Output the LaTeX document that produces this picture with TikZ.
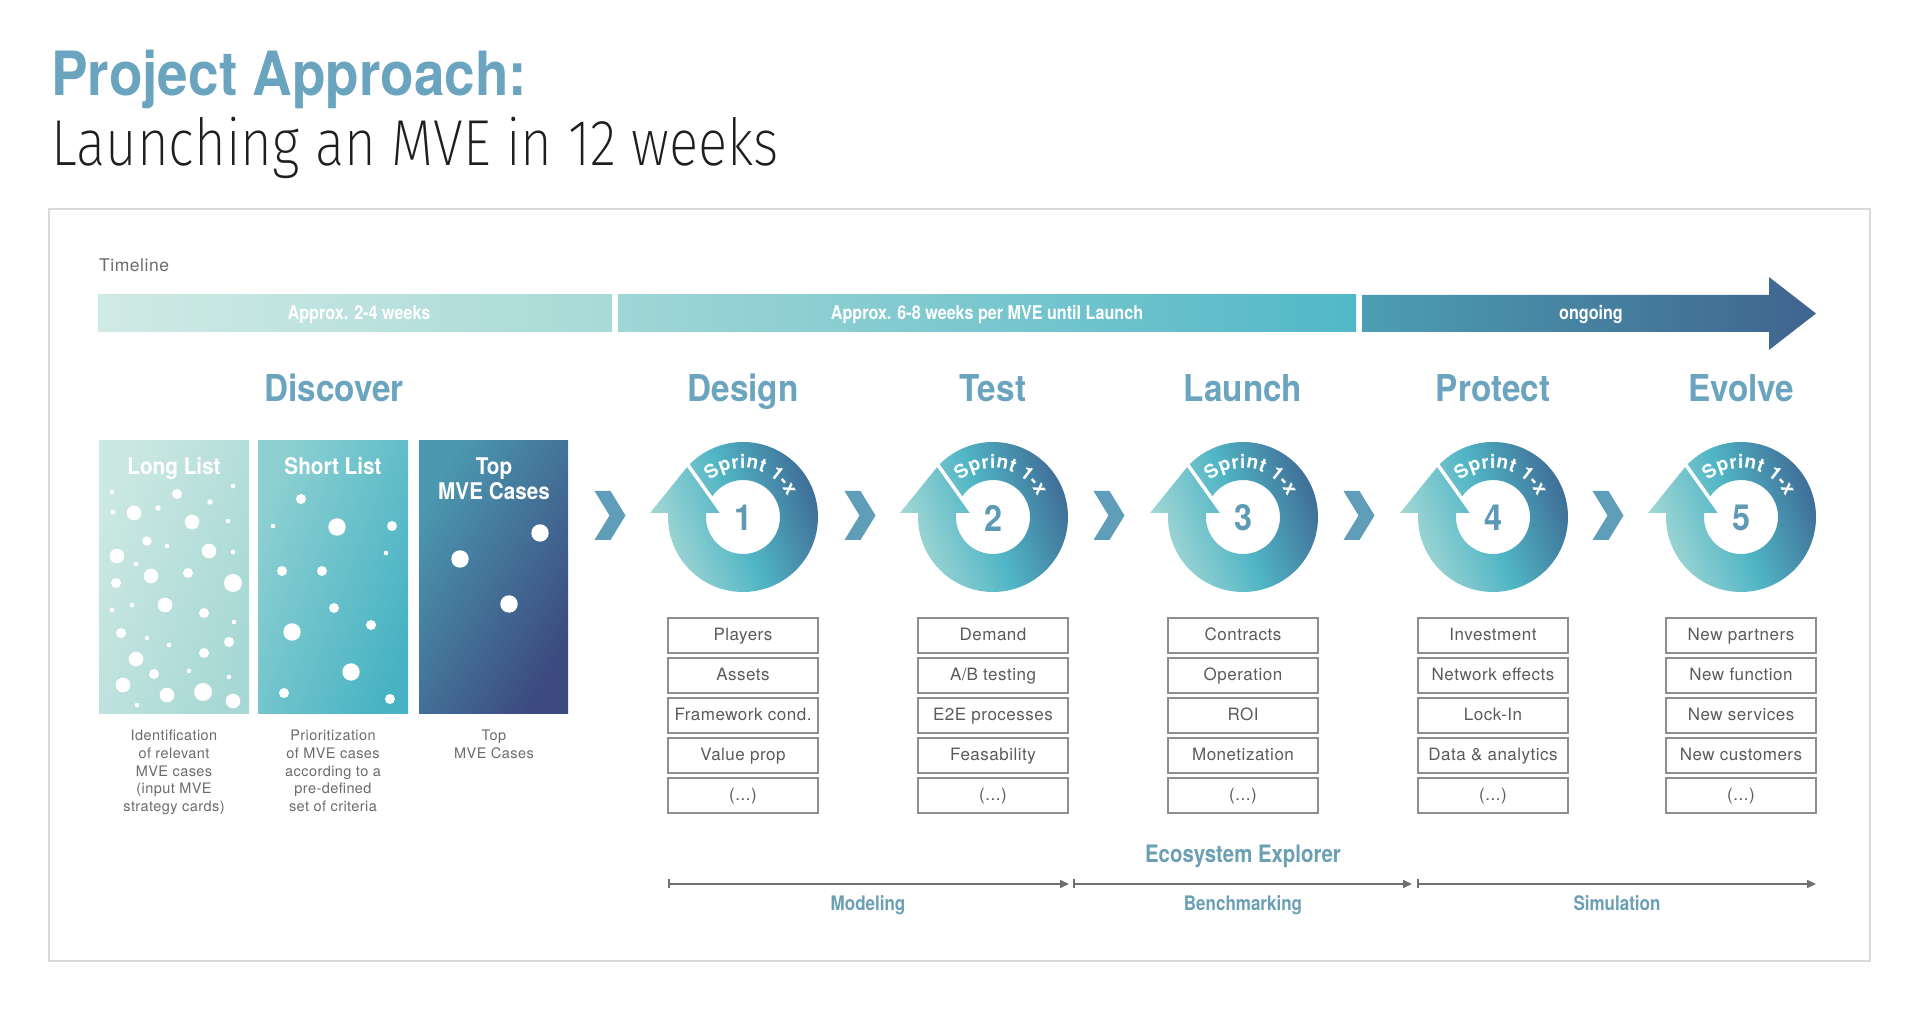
\documentclass[tikz,border=0pt]{standalone}
\usepackage{fontspec}
\setmainfont{TeX Gyre Heros}
\newfontfamily\headfont{TeX Gyre Heros}[FakeStretch=0.9]
\newfontfamily\condfont{TeX Gyre Heros}[FakeStretch=0.85]
\newfontfamily\lightfont{Fira Sans ExtraLight}[FakeStretch=0.84]
\newfontfamily\spacedfont{TeX Gyre Heros}[LetterSpace=3]
\newcommand\sprintfont{\normalfont\bfseries\fontsize{19}{19}\selectfont}
\usetikzlibrary{arrows.meta, decorations.text}

\definecolor{headblue}{HTML}{6AA4BE}
\definecolor{numblue}{HTML}{5E9AB5}
\definecolor{chevblue}{HTML}{5F9DB8}
\definecolor{explblue}{HTML}{6A9FB4}
\definecolor{titleblack}{HTML}{1E1E1E}
\definecolor{descgray}{HTML}{6B6B6B}
\definecolor{itemgray}{HTML}{5B5B5B}
\definecolor{boxgray}{HTML}{8E8E8E}
\definecolor{framegray}{HTML}{DADADA}
\definecolor{arrowgray}{HTML}{707070}
\definecolor{tlA}{HTML}{D0EAE4}
\definecolor{tlB}{HTML}{A8DAD7}
\definecolor{tlC}{HTML}{A0D6D6}
\definecolor{tlD}{HTML}{52B8C7}
\definecolor{tlE}{HTML}{4C9EB2}
\definecolor{tlF}{HTML}{40648F}
\definecolor{ringA}{HTML}{A9DAD6}
\definecolor{ringB}{HTML}{50B5C5}
\definecolor{ringC}{HTML}{3E6893}
\definecolor{cardA}{HTML}{CCE8E2}
\definecolor{cardB}{HTML}{A7D8D5}
\definecolor{cardC}{HTML}{8ED0D2}
\definecolor{cardD}{HTML}{47B2C3}
\definecolor{cardE}{HTML}{4B98B0}
\definecolor{cardF}{HTML}{3C4A7F}

\begin{document}
\begin{tikzpicture}[x=1pt, y=1pt,
  phase/.style={font=\headfont\bfseries\fontsize{37}{40}\selectfont, text=headblue, anchor=base, inner sep=0},
  cardtitle/.style={font=\headfont\bfseries\fontsize{23}{23}\selectfont, text=white, anchor=base, inner sep=0},
  desc/.style={anchor=north, align=center, inner sep=0, font=\spacedfont\fontsize{14.5}{17.7}\selectfont, text=descgray},
  item/.style={draw=boxgray, line width=1.2pt, minimum width=150, minimum height=35, inner sep=0,
    text height=13pt, text depth=2pt, font=\spacedfont\fontsize{17}{17}\selectfont, text=itemgray},
  barlabel/.style={font=\condfont\bfseries\fontsize{19}{19}\selectfont, text=white, anchor=base, inner sep=0},
  explore/.style={font=\condfont\bfseries\fontsize{20}{20}\selectfont, text=explblue, anchor=base, inner sep=0},
  phasearrow/.style={draw=arrowgray, line width=1.6pt, {Bar[width=9pt]}-{Triangle[length=9pt,width=8pt]}},
  ring/.style={left color=ringA, right color=ringC, middle color=ringB, shading angle=110}]

  \useasboundingbox (0,0) rectangle (1920,1012);
  \fill[white] (0,0) rectangle (1920,1012);

  % title
  \node[anchor=base west, inner sep=0, font=\headfont\bfseries\fontsize{61}{61}\selectfont, text=headblue]
    (title) at (51,916.5) {Project Approach:};
  \node[anchor=base west, inner sep=0, font=\lightfont\fontsize{65}{65}\selectfont, text=titleblack]
    (subtitle) at (51,846.7) {Launching an MVE in 12 weeks};

  \draw[framegray, line width=1.5pt] (49,51) rectangle (1870,803);

  % timeline
  \node[anchor=base west, inner sep=0, font=\spacedfont\fontsize{17.5}{17.5}\selectfont, text=descgray]
    (timeline) at (99,740) {Timeline};
  \shade[left color=tlA, right color=tlB] (98,680) rectangle (612,717);
  \shade[left color=tlC, right color=tlD] (618,680) rectangle (1356,717);
  \shade[left color=tlE, right color=tlF] (1362,680) -- (1769,680) -- (1769,662) -- (1816,698.5)
    -- (1769,735) -- (1769,717) -- (1362,717) -- cycle;
  \node[barlabel] (bar-1) at (359,692) {Approx. 2-4 weeks};
  \node[barlabel] (bar-2) at (987,692) {Approx. 6-8 weeks per MVE until Launch};
  \node[barlabel] (bar-3) at (1591,692) {ongoing};

  % discover
  \node[phase] (discover) at (334,610) {Discover};
  \shade[left color=cardA, right color=cardB, shading angle=70] (99,298) rectangle (249,571);
  \shade[left color=cardC, right color=cardD, shading angle=70] (258,298) rectangle (408,571);
  \shade[left color=cardE, right color=cardF, shading angle=60] (419,298) rectangle (568,571);
  \node[cardtitle] (title-long) at (174,537) {Long List};
  \node[cardtitle] (title-short) at (333,537) {Short List};
  \node[cardtitle] (title-top) at (494,537) {Top};
  \node[cardtitle] (title-mve) at (494,512) {MVE Cases};
  \foreach \dx/\dy/\dr in {112/520/2.3, 177/518/5, 233/526/2.3, 113/500/2.3, 134/499/7.3, 158/504/2.7,
    210/510/2.7, 192/490/7.3, 228/491/2.3, 147/471/4.7, 167/466/2.3, 117/456/7.3, 209/461/7.3,
    233/460/2.3, 136/448/2.3, 151/436/7.3, 188/439/5, 116/429/5, 233/429/9, 112/402/2.3, 132/407/2.3,
    165/407/7.3, 204/399/5, 234/390/2.3, 121/379/5, 147/374/2.3, 169/367/2.3, 229/370/5, 136/353/7.3,
    204/359/5, 154/338/5, 189/341/2.3, 229/335/2.3, 123/327/7.3, 167/317/7.3, 203/320/9, 233/311/7.3,
    137/307/2.3,
    301/513/5, 273/486/2.3, 337/485/8.7, 392/486/5, 386/459/2.3, 282/441/5, 322/441/5, 334/404/5,
    371/387/5, 292/380/8.7, 351/340/8.7, 284/319/5, 390/313/5,
    540/479/8.7, 460/453/8.7, 509/408/8.7}
    \fill[white] (\dx,\dy) circle (\dr);
  \node[desc] (desc-long) at (174,282) {Identification\\of relevant\\MVE cases\\(input MVE\\strategy cards)};
  \node[desc] (desc-short) at (333,282) {Prioritization\\of MVE cases\\according to a\\pre-defined\\set of criteria};
  \node[desc] (desc-top) at (494,282) {Top\\MVE Cases};

  % chevrons
  \foreach \chx in {610,860,1109,1359,1608}
    \fill[chevblue] (\chx,496.5) ++(-15.5,24.5) -- ++(16,0) -- ++(15,-24.5) -- ++(-15,-24.5)
      -- ++(-16,0) -- ++(15,24.5) -- cycle;

  % sprints
  \foreach \cx/\nr/\ph/\itA/\itB/\itC/\itD in {
      743/1/Design/Players/Assets/Framework cond./Value prop,
      993/2/Test/Demand/A\slash B testing/E2E processes/Feasability,
      1243/3/Launch/Contracts/Operation/ROI/Monetization,
      1493/4/Protect/Investment/Network effects/Lock-In/Data \& analytics,
      1741/5/Evolve/New partners/New function/New services/New customers}{
    \node[phase] (head-\nr) at (\cx,610) {\ph};
    \begin{scope}[shift={(\cx,495)}]
      \shade[ring] (136.8:75) arc[start angle=136.8, end angle=-183.1, radius=75]
        -- (-186.2:37) arc[start angle=-186.2, end angle=149, radius=37] -- cycle
        (-93,4) -- (-54.7,51.4) -- (-21,4) -- cycle;
      \draw[white, line width=3.5pt] (-19.3,1.6) -- (-57.6,55.5);
      \path[decorate, decoration={text along path, text={|\sprintfont|Sprint 1-x},
        text align=fit to path, text color=white}]
        (132:49) arc[start angle=132, end angle=25, radius=49];
      \node[font=\headfont\bfseries\fontsize{36}{36}\selectfont, text=numblue] (nr-\nr) at (0,-1) {\nr};
    \end{scope}
    \node[item] (item-\nr-1) at (\cx,376.5) {\itA};
    \node[item] (item-\nr-2) at (\cx,336.5) {\itB};
    \node[item] (item-\nr-3) at (\cx,296.5) {\itC};
    \node[item] (item-\nr-4) at (\cx,256.5) {\itD};
    \node[item] (item-\nr-5) at (\cx,216.5) {(...)};
  }

  % ecosystem explorer
  \node[explore, font=\condfont\bfseries\fontsize{24}{24}\selectfont] (explorer) at (1243,149) {Ecosystem Explorer};
  \coordinate (mod-s) at (668,128);
  \coordinate (mod-e) at (1069,128);
  \coordinate (ben-s) at (1073,128);
  \coordinate (ben-e) at (1412,128);
  \coordinate (sim-s) at (1417,128);
  \coordinate (sim-e) at (1816,128);
  \draw[phasearrow] (mod-s) -- (mod-e);
  \draw[phasearrow] (ben-s) -- (ben-e);
  \draw[phasearrow] (sim-s) -- (sim-e);
  \node[explore] (modeling) at (868,101) {Modeling};
  \node[explore] (benchmarking) at (1243,101) {Benchmarking};
  \node[explore] (simulation) at (1617,101) {Simulation};

\end{tikzpicture}
\end{document}
